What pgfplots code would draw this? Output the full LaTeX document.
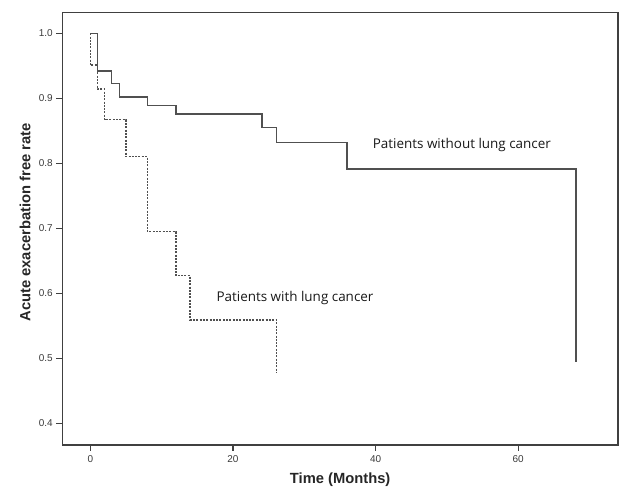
\documentclass[border=0pt]{standalone}
\usepackage{fontspec}
\setmainfont{Open Sans}
\newfontfamily\arialfont{Liberation Sans}
\usepackage{pgfplots}
\pgfplotsset{compat=1.18}
\definecolor{axgray}{HTML}{404040}
\definecolor{lngray}{HTML}{505050}
\definecolor{tickgray}{HTML}{3A3A3A}
\begin{document}
\begin{tikzpicture}[x=1bp,y=1bp]
\path[use as bounding box] (0,0) rectangle (627,494);
\begin{axis}[
  at={(62.3bp,49bp)}, anchor=south west,
  scale only axis, width=555.7bp, height=432.3bp,
  xmin=-3.93, xmax=74.0, ymin=0.3666, ymax=1.0317,
  xtick={0,20,40,60}, ytick={0.4,0.5,0.6,0.7,0.8,0.9,1.0},
  xtick pos=lower, ytick pos=left, tick align=outside,
  major tick length=6bp,
  axis line style={axgray, line width=1.2bp},
  every tick/.style={axgray, line width=1.2bp},
  /pgf/number format/assume math mode=true,
  yticklabel style={/pgf/number format/.cd, fixed, fixed zerofill, precision=1},
  ticklabel style={font=\arialfont\fontsize{10}{12}\selectfont, text=tickgray},
  xticklabel style={yshift=-1bp},
  xlabel={Time (Months)},
  ylabel={Acute exacerbation free rate},
  xlabel style={font=\arialfont\bfseries\fontsize{14.8}{16}\selectfont, text=black!85, at={(axis description cs:0.5,-0.081)}, anchor=center},
  ylabel style={font=\arialfont\bfseries\fontsize{14.8}{16}\selectfont, text=black!85, at={(axis description cs:-0.067,0.515)}, anchor=center},
  clip=false,
]
\addplot[const plot, color=lngray, line width=1.4bp, dash pattern=on 2bp off 1.3bp] coordinates {
  (0,1.0) (0,0.951) (1,0.914) (2,0.867) (5,0.810) (8,0.695) (12,0.627) (14,0.559) (26.1,0.477)
};
\addplot[const plot, color=lngray, line width=1.4bp] coordinates {
  (0,1.0) (1,0.942) (3,0.923) (4.07,0.902) (8,0.889) (12,0.876) (24.1,0.855) (26.1,0.832) (36,0.791) (68.1,0.495)
};
\node[font=\fontsize{13.5}{15}\selectfont, text=black!90] at (axis cs:52.1,0.828) {Patients without lung cancer};
\node[font=\fontsize{13.5}{15}\selectfont, text=black!90] at (axis cs:28.7,0.593) {Patients with lung cancer};
\end{axis}
\end{tikzpicture}
\end{document}
